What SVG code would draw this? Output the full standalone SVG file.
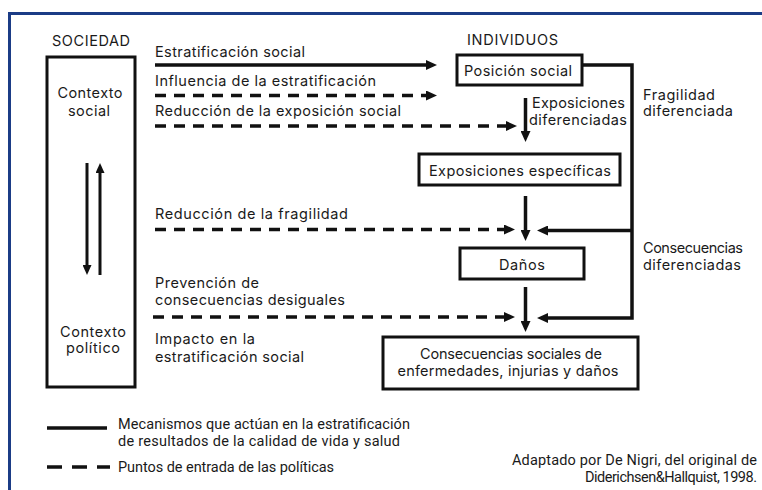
<svg xmlns="http://www.w3.org/2000/svg" width="762" height="490" viewBox="0 0 762 490">
<style>
 text { font-family: Inter, "Noto Sans", sans-serif; font-size: 14.5px; fill:#1a1a1a; }
 .lg { font-family: Roboto, "Liberation Sans", sans-serif; font-size: 14.5px; }
 .m { text-anchor: middle; }
 .e { text-anchor: end; }
 .box { fill:#fff; stroke:#111; stroke-width:3; }
 .s { stroke:#111; stroke-width:3.5; fill:none; }
 .d { stroke:#111; stroke-width:3.5; fill:none; stroke-dasharray:11 8; }
 .ld { stroke:#111; stroke-width:3.5; fill:none; stroke-dasharray:15 10; }
 .t { stroke:#111; stroke-width:3; fill:none; }
</style>
<defs>
 <marker id="a" markerUnits="userSpaceOnUse" markerWidth="11" markerHeight="10" refX="1" refY="5" orient="auto">
  <path d="M0,0 L11,5 L0,10 z" fill="#111"/>
 </marker>
 <marker id="b" markerUnits="userSpaceOnUse" markerWidth="10" markerHeight="9" refX="1" refY="4.5" orient="auto">
  <path d="M0,0 L10,4.5 L0,9 z" fill="#111"/>
 </marker>
</defs>
<rect width="762" height="490" fill="#fff"/>
<path d="M9.5 490 V13.5 H762" stroke="#1b3c86" stroke-width="3" fill="none"/>

<g id="sociedad">
 <text x="52" y="46" textLength="78">SOCIEDAD</text>
 <rect class="box" x="47" y="57" width="88" height="330" stroke-width="3.5"/>
 <text class="m" x="90" y="98" textLength="65">Contexto</text>
 <text class="m" x="89" y="116" textLength="42">social</text>
 <text class="m" x="93" y="337" textLength="66">Contexto</text>
 <text class="m" x="93" y="353" textLength="54">político</text>
</g>

<g id="individuos">
 <text x="467" y="45" textLength="91">INDIVIDUOS</text>
</g>

<g id="posicion">
 <rect class="box" x="457" y="55" width="125" height="30"/>
 <text x="464" y="76" textLength="108">Posición social</text>
</g>

<g id="exposiciones">
 <rect class="box" x="419" y="154" width="201" height="31"/>
 <text x="429" y="176" textLength="182">Exposiciones específicas</text>
</g>

<g id="danos">
 <rect class="box" x="460" y="248" width="124" height="31"/>
 <text class="m" x="522" y="270" textLength="46">Daños</text>
</g>

<g id="consecuencias">
 <rect class="box" x="383" y="337" width="255" height="52" stroke-width="3.5"/>
 <text class="m" x="511" y="359" textLength="182">Consecuencias sociales de</text>
 <text class="m" x="508" y="376" textLength="221">enfermedades, injurias y daños</text>
</g>

<g id="connectors">
 <path class="t" d="M87 163 V266" marker-end="url(#b)"/>
 <path class="t" d="M100 275 V172" marker-end="url(#b)"/>
 <path class="s" d="M155 65 H427" marker-end="url(#a)"/>
 <path class="d" d="M155 95.5 H427" marker-end="url(#a)"/>
 <path class="d" d="M155 126 H507" marker-end="url(#a)"/>
 <path class="d" d="M155 229.5 H505" marker-end="url(#a)"/>
 <path class="d" d="M153 317 H505" marker-end="url(#a)"/>
 <path class="s" d="M525.5 98 V132" marker-end="url(#a)"/>
 <path class="s" d="M525.5 196 V231" marker-end="url(#a)"/>
 <path class="s" d="M525.5 287 V322" marker-end="url(#a)"/>
 <path class="s" d="M582 65 H632 V318 H547" marker-end="url(#a)"/>
 <path class="s" d="M632 230.5 H547" marker-end="url(#a)"/>
</g>

<g id="labels">
 <text x="155" y="57" textLength="150">Estratificación social</text>
 <text x="155" y="86" textLength="221">Influencia de la estratificación</text>
 <text x="155" y="116" textLength="246">Reducción de la exposición social</text>
 <text x="532" y="108" textLength="93">Exposiciones</text>
 <text x="529" y="125" textLength="98">diferenciadas</text>
 <text x="643" y="100" textLength="72">Fragilidad</text>
 <text x="643" y="116" textLength="90">diferenciada</text>
 <text x="155" y="219" textLength="193">Reducción de la fragilidad</text>
 <text x="643" y="253" textLength="100">Consecuencias</text>
 <text x="643" y="270" textLength="98">diferenciadas</text>
 <text x="155" y="288" textLength="104">Prevención de</text>
 <text x="155" y="305" textLength="190">consecuencias desiguales</text>
 <text x="155" y="344" textLength="100">Impacto en la</text>
 <text x="155" y="362" textLength="149">estratificación social</text>
</g>

<g id="legend">
 <path class="s" d="M47 428 H107" stroke-width="3"/>
 <path class="ld" d="M47 467 H110" stroke-width="3"/>
 <text class="lg" x="118" y="429" textLength="292">Mecanismos que actúan en la estratificación</text>
 <text class="lg" x="118" y="446" textLength="282">de resultados de la calidad de vida y salud</text>
 <text class="lg" x="118" y="472" textLength="216">Puntos de entrada de las políticas</text>
 <text class="lg e" x="757" y="465" textLength="245">Adaptado por De Nigri, del original de</text>
 <text class="lg e" x="757" y="482" textLength="172">Diderichsen&amp;Hallquist, 1998.</text>
</g>
</svg>
